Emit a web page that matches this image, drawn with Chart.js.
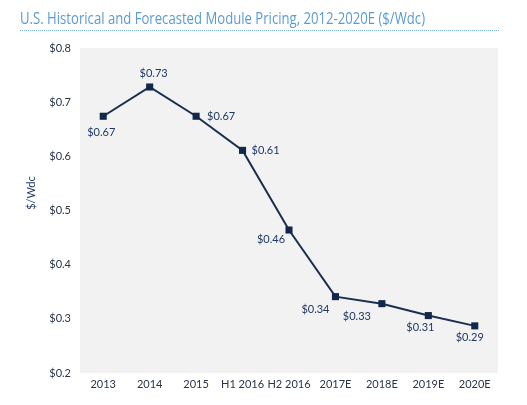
<!DOCTYPE html>
<html>
<head>
<meta charset="utf-8">
<script src="https://cdn.jsdelivr.net/npm/chart.js@4/dist/chart.umd.min.js"></script>
<style>
html,body{margin:0;padding:0;background:#fff;}
#wrap{width:527px;height:405px;position:relative;}
</style>
</head>
<body>
<div id="wrap"><canvas id="c" width="527" height="405"></canvas></div>
<script>
const categories = ['2013','2014','2015','H1 2016','H2 2016','2017E','2018E','2019E','2020E'];
const prices = [0.674, 0.728, 0.674, 0.611, 0.464, 0.341, 0.328, 0.306, 0.287];
const yTicks = [0.2, 0.3, 0.4, 0.5, 0.6, 0.7, 0.8];
const chartTitle = 'U.S. Historical and Forecasted Module Pricing, 2012-2020E ($/Wdc)';
const yAxisTitle = '$/Wdc';

const FONT = 'Lato, "Open Sans", sans-serif';

const decor = {
  id: 'decor',
  beforeDraw(chart) {
    const {ctx, chartArea: a} = chart;
    ctx.save();
    ctx.fillStyle = '#f2f2f2';
    ctx.fillRect(a.left, a.top, a.right - a.left, a.bottom - a.top);
    ctx.restore();
  },
  afterDraw(chart) {
    const {ctx} = chart;
    ctx.save();
    // title
    ctx.font = '16px "Open Sans", sans-serif';
    ctx.fillStyle = '#5b9bd5';
    ctx.textBaseline = 'alphabetic';
    ctx.textAlign = 'left';
    const w = ctx.measureText(chartTitle).width;
    const target = 405;
    ctx.translate(20, 24);
    ctx.scale(target / w, 1);
    ctx.fillText(chartTitle, 0, 0);
    ctx.restore();
    // dotted line
    ctx.save();
    ctx.fillStyle = '#7aaee0';
    for (let x = 20; x < 500; x += 2) ctx.fillRect(x, 30, 1, 1);
    ctx.restore();
    // y axis title
    ctx.save();
    ctx.font = '11px ' + FONT;
    ctx.fillStyle = '#1f3864';
    ctx.textAlign = 'center';
    ctx.textBaseline = 'middle';
    ctx.translate(31, 193);
    ctx.rotate(-Math.PI / 2);
    ctx.fillText(yAxisTitle, 0, 0);
    ctx.restore();
    // data labels
    const offs = [[-2,16],[4,-14],[25,0],[23,0],[-18,9],[-20,13],[-25,13],[-8,12],[-5,12]];
    const meta = chart.getDatasetMeta(0);
    ctx.save();
    ctx.font = '11px ' + FONT;
    ctx.fillStyle = '#1f3864';
    ctx.textAlign = 'center';
    ctx.textBaseline = 'middle';
    meta.data.forEach((pt, i) => {
      const v = chart.data.datasets[0].data[i];
      ctx.fillText('$' + v.toFixed(2), pt.x + offs[i][0], pt.y + offs[i][1]);
    });
    ctx.restore();
  }
};

new Chart(document.getElementById('c'), {
  type: 'line',
  data: {
    labels: categories,
    datasets: [{
      data: prices,
      borderColor: '#1a2f4e',
      backgroundColor: '#12284a',
      borderWidth: 2,
      pointStyle: 'rect',
      pointRadius: 5,
      pointBorderWidth: 0,
      pointHoverRadius: 5,
      tension: 0
    }]
  },
  options: {
    responsive: false,
    animation: false,
    devicePixelRatio: 1,
    layout: {padding: {top: 48, right: 29, left: 0, bottom: 0}},
    plugins: {legend: {display: false}, tooltip: {enabled: false}, title: {display: false}},
    scales: {
      x: {
        offset: true,
        grid: {display: false, drawTicks: false},
        border: {display: false},
        ticks: {color: '#2a3648', font: {family: FONT, size: 11}, padding: 5, maxRotation: 0, autoSkip: false},
        afterFit(s) { s.height = 32; }
      },
      y: {
        min: 0.2, max: 0.8,
        grid: {display: false, drawTicks: false},
        border: {display: false},
        afterBuildTicks(s) { s.ticks = yTicks.map(v => ({value: v})); },
        ticks: {
          color: '#2a3648', font: {family: FONT, size: 11}, padding: 9,
          callback: v => '$' + Number(v).toFixed(1)
        },
        afterFit(s) { s.width = 80; }
      }
    }
  },
  plugins: [decor]
});
</script>
</body>
</html>
